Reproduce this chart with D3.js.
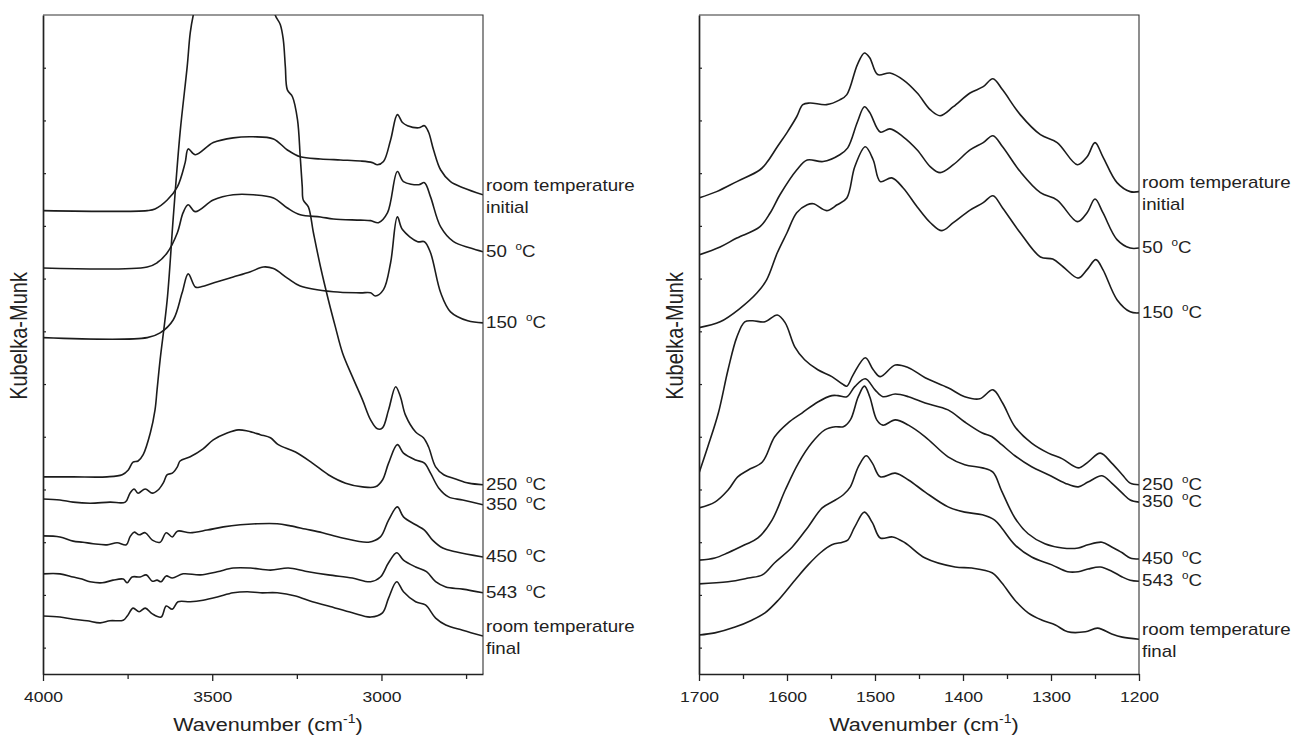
<!DOCTYPE html>
<html>
<head>
<meta charset="utf-8">
<script src="https://cdn.jsdelivr.net/npm/d3@7"></script>
<style>
  body { margin: 0; background: #fff; }
  svg { display: block; font-family: "Liberation Sans", Arial, sans-serif; }
</style>
</head>
<body>
<svg id="chart" width="1295" height="736"></svg>
<script>
// ---- left panel, 4000 - 2700 cm-1 : [wavenumber, Kubelka-Munk (offset)] ----
var leftRtInitial = [[4000,8.79],[3692,8.79],[3669,8.82],[3633,8.99],[3603,9.24],[3580,9.70],[3571,9.96],[3550,9.85],[3497,10.08],[3438,10.17],[3379,10.19],[3319,10.15],[3278,9.94],[3240,9.81],[3180,9.77],[3121,9.75],[3062,9.73],[3027,9.70],[3012,9.66],[2994,9.72],[2973,10.13],[2953,10.61],[2938,10.46],[2923,10.40],[2890,10.36],[2873,10.40],[2861,10.28],[2846,9.94],[2825,9.56],[2796,9.34],[2757,9.22],[2700,9.09]];
var left50 = [[4000,7.70],[3692,7.72],[3663,7.80],[3633,7.99],[3603,8.37],[3586,8.75],[3571,8.90],[3550,8.77],[3497,8.99],[3438,9.09],[3379,9.09],[3319,9.03],[3278,8.84],[3240,8.71],[3180,8.67],[3142,8.63],[3062,8.61],[3032,8.60],[3009,8.56],[2982,8.75],[2953,9.53],[2935,9.34],[2890,9.28],[2873,9.32],[2855,9.05],[2825,8.48],[2787,8.20],[2737,8.08],[2700,8.01]];
var left150 = [[4000,6.38],[3692,6.38],[3654,6.47],[3615,6.72],[3589,7.23],[3571,7.59],[3550,7.34],[3535,7.34],[3485,7.44],[3438,7.53],[3387,7.63],[3349,7.72],[3319,7.69],[3278,7.51],[3240,7.36],[3142,7.25],[3062,7.23],[3032,7.23],[3018,7.17],[2994,7.29],[2973,7.80],[2953,8.67],[2938,8.43],[2893,8.20],[2873,8.20],[2855,7.99],[2825,7.23],[2796,6.87],[2745,6.70],[2700,6.66]];
var left250 = [[4000,3.74],[3911,3.74],[3811,3.74],[3766,3.78],[3748,3.87],[3734,4.02],[3719,4.04],[3704,4.16],[3683,4.57],[3669,5.01],[3663,5.39],[3654,5.96],[3633,7.10],[3615,8.67],[3595,10.27],[3574,11.52],[3565,12.16],[3556,12.50],[3520,13.4],[3450,14.2],[3380,14.2],[3330,13.1],[3314,12.50],[3299,12.32],[3290,12.03],[3284,11.52],[3278,11.08],[3263,10.95],[3248,10.51],[3240,9.81],[3234,9.24],[3231,8.99],[3216,8.86],[3201,8.37],[3180,7.72],[3157,7.10],[3136,6.58],[3115,6.09],[3086,5.64],[3056,5.20],[3032,4.82],[3012,4.65],[2997,4.67],[2979,5.01],[2958,5.45],[2944,5.26],[2929,4.91],[2899,4.59],[2876,4.48],[2861,4.31],[2840,3.93],[2816,3.78],[2781,3.70],[2742,3.62],[2700,3.59]];
var left350 = [[4000,3.32],[3950,3.30],[3911,3.26],[3861,3.24],[3802,3.26],[3757,3.26],[3743,3.43],[3731,3.51],[3719,3.43],[3698,3.51],[3677,3.43],[3660,3.49],[3645,3.62],[3633,3.78],[3618,3.81],[3603,3.93],[3595,4.04],[3565,4.12],[3527,4.27],[3497,4.44],[3456,4.57],[3423,4.63],[3396,4.61],[3358,4.54],[3328,4.48],[3305,4.35],[3254,4.21],[3204,4.00],[3157,3.78],[3106,3.62],[3056,3.55],[3018,3.55],[2997,3.68],[2979,4.00],[2953,4.35],[2935,4.19],[2899,4.06],[2873,4.00],[2855,3.81],[2831,3.53],[2802,3.36],[2760,3.30],[2700,3.21]];
var left450 = [[4000,2.62],[3950,2.60],[3911,2.52],[3882,2.50],[3852,2.47],[3811,2.45],[3781,2.49],[3754,2.45],[3743,2.60],[3731,2.69],[3716,2.64],[3698,2.68],[3677,2.54],[3654,2.50],[3636,2.68],[3618,2.60],[3603,2.71],[3565,2.68],[3515,2.73],[3467,2.79],[3417,2.83],[3367,2.85],[3308,2.85],[3269,2.81],[3225,2.75],[3174,2.68],[3115,2.58],[3038,2.50],[3003,2.60],[2979,2.92],[2953,3.17],[2935,2.98],[2899,2.83],[2873,2.73],[2849,2.54],[2819,2.39],[2781,2.32],[2700,2.22]];
var left543 = [[4000,1.90],[3950,1.90],[3911,1.84],[3885,1.80],[3861,1.75],[3825,1.73],[3793,1.78],[3763,1.80],[3751,1.73],[3737,1.84],[3713,1.84],[3695,1.88],[3677,1.76],[3663,1.78],[3651,1.75],[3636,1.86],[3618,1.82],[3586,1.90],[3535,1.88],[3485,1.94],[3438,2.01],[3387,2.01],[3328,1.97],[3275,2.01],[3225,1.95],[3157,1.88],[3086,1.82],[3032,1.75],[3003,1.84],[2979,2.11],[2955,2.30],[2935,2.16],[2899,2.03],[2867,1.94],[2840,1.75],[2810,1.65],[2760,1.61],[2700,1.54]];
var leftRtFinal = [[4000,1.10],[3950,1.08],[3911,1.04],[3870,1.01],[3831,0.97],[3802,1.01],[3763,1.02],[3751,1.10],[3734,1.25],[3716,1.18],[3698,1.25],[3677,1.14],[3651,1.08],[3636,1.29],[3618,1.23],[3601,1.37],[3565,1.37],[3527,1.40],[3485,1.46],[3438,1.54],[3396,1.56],[3358,1.54],[3308,1.54],[3254,1.48],[3204,1.37],[3157,1.29],[3086,1.16],[3032,1.08],[2997,1.16],[2979,1.44],[2955,1.75],[2935,1.56],[2899,1.37],[2870,1.31],[2840,1.06],[2810,0.93],[2760,0.83],[2700,0.72]];

// ---- right panel, 1700 - 1200 cm-1 ----
var rightRtInitial = [[1700,9.03],[1680,9.15],[1657,9.34],[1631,9.56],[1623,9.70],[1611,10.00],[1600,10.27],[1589,10.57],[1582,10.80],[1574,10.83],[1555,10.80],[1540,10.89],[1532,10.99],[1520,11.56],[1512,11.78],[1506,11.69],[1497,11.37],[1483,11.40],[1468,11.27],[1452,11.02],[1437,10.70],[1426,10.59],[1411,10.76],[1392,11.02],[1377,11.14],[1366,11.29],[1355,11.08],[1335,10.61],[1312,10.23],[1293,10.08],[1270,9.66],[1259,9.81],[1250,10.08],[1241,9.81],[1225,9.32],[1210,9.15],[1200,9.15]];
var right50 = [[1700,7.95],[1676,8.10],[1657,8.27],[1631,8.48],[1619,8.75],[1608,9.09],[1589,9.56],[1577,9.75],[1559,9.72],[1540,9.85],[1531,9.98],[1520,10.47],[1512,10.76],[1506,10.65],[1494,10.28],[1483,10.34],[1468,10.19],[1452,9.94],[1437,9.62],[1426,9.51],[1411,9.66],[1392,9.94],[1377,10.08],[1366,10.21],[1355,10.00],[1335,9.53],[1312,9.13],[1293,8.99],[1270,8.58],[1259,8.75],[1250,9.01],[1241,8.75],[1225,8.24],[1210,8.08],[1200,8.08]];
var right150 = [[1700,6.57],[1676,6.68],[1653,6.94],[1634,7.23],[1623,7.48],[1611,7.99],[1600,8.37],[1589,8.75],[1577,8.90],[1570,8.92],[1555,8.79],[1543,8.90],[1532,9.03],[1523,9.62],[1511,10.00],[1502,9.75],[1494,9.34],[1481,9.41],[1468,9.22],[1452,8.86],[1437,8.56],[1424,8.41],[1411,8.56],[1392,8.80],[1377,8.94],[1366,9.07],[1355,8.84],[1335,8.37],[1312,7.91],[1298,7.87],[1286,7.72],[1269,7.51],[1259,7.67],[1249,7.86],[1241,7.67],[1225,7.10],[1210,6.87],[1200,6.85]];
var right250 = [[1700,3.81],[1690,4.31],[1678,4.95],[1667,5.77],[1657,6.39],[1648,6.68],[1639,6.70],[1625,6.68],[1611,6.81],[1602,6.66],[1591,6.20],[1580,5.96],[1565,5.77],[1549,5.64],[1537,5.50],[1532,5.46],[1525,5.67],[1511,6.00],[1502,5.77],[1494,5.64],[1477,5.86],[1462,5.81],[1443,5.62],[1417,5.43],[1398,5.26],[1381,5.22],[1366,5.39],[1355,5.14],[1341,4.69],[1322,4.38],[1303,4.19],[1287,4.08],[1269,3.91],[1258,4.02],[1244,4.19],[1231,4.00],[1219,3.78],[1210,3.62],[1200,3.59]];
var right350 = [[1700,3.15],[1682,3.26],[1667,3.49],[1656,3.74],[1644,3.87],[1628,4.02],[1614,4.50],[1599,4.76],[1583,4.95],[1565,5.16],[1549,5.28],[1542,5.28],[1532,5.26],[1523,5.45],[1511,5.60],[1500,5.39],[1491,5.26],[1477,5.31],[1462,5.26],[1443,5.14],[1417,5.01],[1398,4.78],[1378,4.57],[1367,4.50],[1356,4.35],[1341,4.14],[1322,3.93],[1303,3.78],[1284,3.62],[1269,3.55],[1258,3.64],[1242,3.76],[1231,3.62],[1219,3.43],[1210,3.30],[1200,3.26]];
var right450 = [[1700,2.16],[1682,2.20],[1667,2.30],[1648,2.45],[1633,2.58],[1617,2.92],[1602,3.49],[1587,4.00],[1572,4.38],[1557,4.63],[1545,4.69],[1536,4.69],[1528,4.82],[1519,5.26],[1512,5.46],[1506,5.26],[1498,4.82],[1491,4.72],[1477,4.82],[1462,4.72],[1443,4.50],[1417,4.12],[1398,3.97],[1378,3.91],[1366,3.83],[1356,3.47],[1341,2.96],[1326,2.66],[1307,2.47],[1287,2.39],[1269,2.39],[1258,2.45],[1242,2.50],[1231,2.41],[1219,2.30],[1210,2.20],[1200,2.18]];
var right543 = [[1700,1.71],[1667,1.75],[1644,1.82],[1628,1.88],[1614,2.11],[1594,2.41],[1576,2.79],[1560,3.15],[1545,3.30],[1536,3.40],[1528,3.55],[1519,3.93],[1510,4.14],[1503,4.00],[1494,3.74],[1477,3.81],[1462,3.68],[1443,3.45],[1417,3.17],[1398,3.07],[1378,3.02],[1364,2.92],[1356,2.77],[1341,2.45],[1322,2.22],[1299,2.07],[1281,1.94],[1269,1.94],[1258,1.99],[1244,2.03],[1231,1.95],[1219,1.84],[1210,1.78],[1200,1.76]];
var rightRtFinal = [[1700,0.74],[1682,0.78],[1659,0.89],[1640,1.02],[1625,1.16],[1610,1.40],[1591,1.78],[1576,2.07],[1562,2.30],[1549,2.45],[1537,2.50],[1531,2.54],[1523,2.79],[1512,3.07],[1503,2.87],[1494,2.58],[1480,2.60],[1466,2.49],[1443,2.20],[1409,2.03],[1390,2.01],[1367,1.92],[1356,1.73],[1341,1.40],[1326,1.16],[1310,1.02],[1295,0.93],[1281,0.80],[1261,0.80],[1247,0.87],[1231,0.76],[1219,0.70],[1200,0.66]];

var seriesLabels = ["room temperature|initial", "50 °C", "150 °C", "250 °C", "350 °C", "450 °C", "543 °C", "room temperature|final"];

var leftMajorTicks = [4000, 3500, 3000];
var leftMinorTicks = [3750, 3250, 2750];
var rightMajorTicks = [1700, 1600, 1500, 1400, 1300, 1200];
var rightMinorTicks = [1650, 1550, 1450, 1350, 1250];
var yTicks = [0.5, 1.5, 2.5, 3.5, 4.5, 5.5, 6.5, 7.5, 8.5, 9.5, 10.5, 11.5];
var yDomain = [0, 12.5];

var xTitle = "Wavenumber (cm";
var yTitle = "Kubelka-Munk";

var svg = d3.select("#chart");
var top_ = 15, bottom = 674;
var stretch = 1.17;   // the original type is a bit wide

function tempLabel(text, el) {
    var m = text.match(/^(.*) °C$/);
    if (m) {
        el.append("tspan").text(m[1] + " ");
        el.append("tspan").attr("font-size", 10).attr("dx", 3).attr("dy", -7).text("o");
        el.append("tspan").attr("dy", 7).text("C");
    } else {
        el.text(text);
    }
}

function drawPanel(cfg) {
    var x = d3.scaleLinear().domain(cfg.domain).range([cfg.left, cfg.right]);
    var y = d3.scaleLinear().domain(yDomain).range([bottom, top_]);
    var g = svg.append("g");

    var clipId = "clip-" + cfg.id;
    svg.append("clipPath").attr("id", clipId)
        .append("rect")
        .attr("x", cfg.left).attr("y", top_)
        .attr("width", cfg.right - cfg.left).attr("height", bottom - top_);

    var line = d3.line()
        .x(function(d) { return x(d[0]); })
        .y(function(d) { return y(d[1]); })
        .curve(d3.curveCatmullRom.alpha(0.5));

    g.append("g").attr("clip-path", "url(#" + clipId + ")")
        .selectAll("path")
        .data(cfg.series).enter()
        .append("path")
        .attr("d", line)
        .attr("fill", "none")
        .attr("stroke", "#1c1c1c")
        .attr("stroke-width", 1.6)
        .attr("stroke-linejoin", "round");

    // top + right frame
    g.append("path")
        .attr("d", "M" + cfg.left + "," + top_ + "H" + cfg.right + "V" + bottom)
        .attr("fill", "none").attr("stroke", "#333").attr("stroke-width", 1.1);

    // bottom axis: major with labels, minor without
    var xMajor = g.append("g").attr("transform", "translate(0," + bottom + ")")
        .call(d3.axisBottom(x).tickValues(cfg.major).tickSize(7).tickSizeOuter(0)
            .tickPadding(10).tickFormat(d3.format("d")));
    xMajor.select(".domain").attr("stroke", "#222").attr("stroke-width", 1.7);
    xMajor.selectAll(".tick line").attr("stroke", "#222").attr("stroke-width", 1.3);
    xMajor.selectAll(".tick text")
        .attr("font-size", 15).attr("font-family", "Liberation Sans, Arial, sans-serif")
        .attr("fill", "#222").attr("transform", "scale(" + stretch + ",1)");

    var xMinor = g.append("g").attr("transform", "translate(0," + bottom + ")")
        .call(d3.axisBottom(x).tickValues(cfg.minor).tickSize(5).tickSizeOuter(0).tickFormat(""));
    xMinor.select(".domain").remove();
    xMinor.selectAll(".tick line").attr("stroke", "#222").attr("stroke-width", 1.3);

    // left axis, small inward ticks, no labels
    var yAx = g.append("g").attr("transform", "translate(" + cfg.left + ",0)")
        .call(d3.axisLeft(y).tickValues(yTicks).tickSize(-3).tickSizeOuter(0).tickFormat(""));
    yAx.select(".domain").attr("stroke", "#222").attr("stroke-width", 1.7);
    yAx.selectAll(".tick line").attr("stroke", "#222").attr("stroke-width", 1.2);

    // series labels at the right-hand end of each curve
    cfg.series.forEach(function(s, i) {
        var endY = y(s[s.length - 1][1]);
        var parts = seriesLabels[i].split("|");
        if (parts.length === 2) {
            [endY - 4, endY + 18].forEach(function(by, k) {
                g.append("text")
                    .attr("transform", "translate(" + (cfg.right + 3) + "," + by + ") scale(" + stretch + ",1)")
                    .attr("font-size", 16).attr("fill", "#222")
                    .text(parts[k]);
            });
        } else {
            var t = g.append("text")
                .attr("transform", "translate(" + (cfg.right + 3) + "," + (endY + 5) + ") scale(" + stretch + ",1)")
                .attr("font-size", 16).attr("fill", "#222");
            tempLabel(parts[0], t);
        }
    });

    // axis titles
    var xt = g.append("text")
        .attr("transform", "translate(" + ((cfg.left + cfg.right) / 2 + 5) + ",731) scale(" + stretch + ",1)")
        .attr("text-anchor", "middle").attr("font-size", 18.5).attr("fill", "#222");
    xt.append("tspan").text(xTitle);
    xt.append("tspan").attr("font-size", 12).attr("dy", -8).text("-1");
    xt.append("tspan").attr("dy", 8).text(")");

    g.append("text")
        .attr("transform", "translate(" + (cfg.left - 16) + ",336) scale(" + stretch + ",1) rotate(-90)")
        .attr("text-anchor", "middle").attr("font-size", 20).attr("fill", "#222")
        .text(yTitle);
}

drawPanel({
    id: "left", left: 43, right: 483, domain: [4000, 2700],
    major: leftMajorTicks, minor: leftMinorTicks,
    series: [leftRtInitial, left50, left150, left250, left350, left450, left543, leftRtFinal]
});
drawPanel({
    id: "right", left: 699, right: 1139, domain: [1700, 1200],
    major: rightMajorTicks, minor: rightMinorTicks,
    series: [rightRtInitial, right50, right150, right250, right350, right450, right543, rightRtFinal]
});
</script>
</body>
</html>
